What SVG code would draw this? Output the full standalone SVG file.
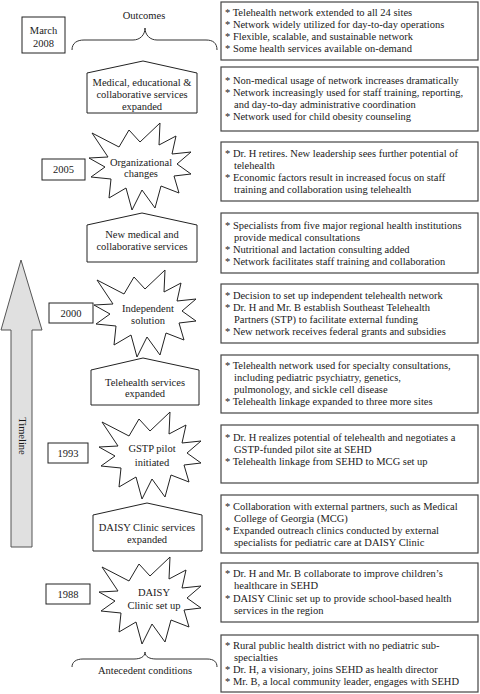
<svg xmlns="http://www.w3.org/2000/svg" xmlns:xlink="http://www.w3.org/1999/xlink" width="480" height="694" viewBox="0 0 480 694">
<style>
.rb{fill:#fff;stroke:#444;stroke-width:1.2}
.sh{fill:#fff;stroke:#222;stroke-width:1}
.t{font-family:"Liberation Serif","Times New Roman",serif;font-size:10.5px;fill:#1a1a1a}
.c{text-anchor:middle}
.br{fill:none;stroke:#333;stroke-width:1}
</style>
<defs>
<polygon id="star" points="19,-43 18,-21 35,-30 31,-12 50,-14 36,-2 50,8 33,10 38,27 20,20 14,42 1,24 -9,44 -15,22 -32,32 -30,13 -50,11 -36,1 -52,-8 -33,-9 -49,-33 -22,-19 -12,-36 -1,-24"/>
</defs>
<rect width="480" height="694" fill="#fff"/>

<g id="timeline">
<polygon points="21,260 42,330 32,330 32,547 11,547 11,330 1,330" fill="#e0e0e0" stroke="#555" stroke-width="1"/>
<text class="t c" transform="translate(18.5,436) rotate(90)">Timeline</text>
</g>

<g id="connectors">
<path class="br" d="M72,50 C72,43 77,40 84,40 L133,40 C140,40 145,35 145,28 C145,35 150,40 157,40 L206,40 C213,40 217,43 217,50"/>
<path class="br" d="M72,667 C72,662 76,659 83,659 L134,659 C140,659 145,657 145,652 C145,657 150,659 156,659 L207,659 C214,659 217,662 217,667"/>
</g>

<g id="outcomes">
<text class="t c" x="144" y="18.5">Outcomes</text>
</g>
<g id="antecedent">
<text class="t c" x="145" y="674">Antecedent conditions</text>
</g>

<g id="date-2008">
<rect class="sh" x="22" y="17" width="43" height="36"/>
<text class="t c" x="43.5" y="34">March</text>
<text class="t c" x="43.5" y="47">2008</text>
</g>
<g id="date-2005">
<rect class="sh" x="42" y="159" width="43" height="21"/>
<text class="t c" x="63.5" y="173">2005</text>
</g>
<g id="date-2000">
<rect class="sh" x="49" y="303" width="44" height="20"/>
<text class="t c" x="71" y="317">2000</text>
</g>
<g id="date-1993">
<rect class="sh" x="48" y="443" width="40" height="20"/>
<text class="t c" x="68" y="457">1993</text>
</g>
<g id="date-1988">
<rect class="sh" x="46" y="584" width="44" height="20"/>
<text class="t c" x="68" y="598">1988</text>
</g>

<g id="p1">
<polygon class="sh" points="87,73 143,61 197,73 197,113 87,113"/>
<text class="t c" x="142" y="85.5">Medical, educational &amp;</text>
<text class="t c" x="142" y="97.5">collaborative services</text>
<text class="t c" x="142" y="109.5">expanded</text>
</g>
<g id="s1">
<use xlink:href="#star" class="sh" transform="translate(141,166)"/>
<text class="t c" x="141" y="165.5">Organizational</text>
<text class="t c" x="141" y="176.5">changes</text>
</g>
<g id="p2">
<polygon class="sh" points="87,225 142,213 197,225 197,262 87,262"/>
<text class="t c" x="142" y="237.5">New medical and</text>
<text class="t c" x="142" y="249.5">collaborative services</text>
</g>
<g id="s2">
<use xlink:href="#star" class="sh" transform="translate(146,313)"/>
<text class="t c" x="148" y="311.5">Independent</text>
<text class="t c" x="148" y="323.5">solution</text>
</g>
<g id="p3">
<polygon class="sh" points="91,370 143,358 199,370 199,405 91,405"/>
<text class="t c" x="145" y="385.5">Telehealth services</text>
<text class="t c" x="145" y="397">expanded</text>
</g>
<g id="s3">
<use xlink:href="#star" class="sh" transform="translate(151,455)"/>
<text class="t c" x="152" y="451.5">GSTP pilot</text>
<text class="t c" x="152" y="465.5">initiated</text>
</g>
<g id="p4">
<polygon class="sh" points="93,515 147,503 202,515 202,551 93,551"/>
<text class="t c" x="147" y="530.5">DAISY Clinic services</text>
<text class="t c" x="147" y="542.5">expanded</text>
</g>
<g id="s4">
<use xlink:href="#star" class="sh" transform="translate(151,600)"/>
<text class="t c" x="154" y="595.5">DAISY</text>
<text class="t c" x="154" y="608.5">Clinic set up</text>
</g>

<g id="b1">
<rect class="rb" x="221" y="2" width="257" height="58"/>
<text class="t" x="225" y="16">* Telehealth network extended to all 24 sites</text>
<text class="t" x="225" y="28">* Network widely utilized for day-to-day operations</text>
<text class="t" x="225" y="40">* Flexible, scalable, and sustainable network</text>
<text class="t" x="225" y="52">* Some health services available on-demand</text>
</g>
<g id="b2">
<rect class="rb" x="221" y="67" width="257" height="64"/>
<text class="t" x="225" y="84">* Non-medical usage of network increases dramatically</text>
<text class="t" x="225" y="96">* Network increasingly used for staff training, reporting,</text>
<text class="t" x="234" y="108">and day-to-day administrative coordination</text>
<text class="t" x="225" y="120">* Network used for child obesity counseling</text>
</g>
<g id="b3">
<rect class="rb" x="221" y="142" width="257" height="59"/>
<text class="t" x="225" y="157">* Dr. H retires. New leadership sees further potential of</text>
<text class="t" x="234" y="169">telehealth</text>
<text class="t" x="225" y="181">* Economic factors result in increased focus on staff</text>
<text class="t" x="234" y="193">training and collaboration using telehealth</text>
</g>
<g id="b4">
<rect class="rb" x="221" y="213" width="257" height="60"/>
<text class="t" x="225" y="229">* Specialists from five major regional health institutions</text>
<text class="t" x="234" y="241">provide medical consultations</text>
<text class="t" x="225" y="253">* Nutritional and lactation consulting added</text>
<text class="t" x="225" y="265">* Network facilitates staff training and collaboration</text>
</g>
<g id="b5">
<rect class="rb" x="221" y="284" width="257" height="59"/>
<text class="t" x="225" y="299">* Decision to set up independent telehealth network</text>
<text class="t" x="225" y="311">* Dr. H and Mr. B establish Southeast Telehealth</text>
<text class="t" x="234" y="323">Partners (STP) to facilitate external funding</text>
<text class="t" x="225" y="335">* New network receives federal grants and subsidies</text>
</g>
<g id="b6">
<rect class="rb" x="221" y="355" width="257" height="58"/>
<text class="t" x="225" y="369">* Telehealth network used for specialty consultations,</text>
<text class="t" x="234" y="381">including pediatric psychiatry, genetics,</text>
<text class="t" x="234" y="393">pulmonology, and sickle cell disease</text>
<text class="t" x="225" y="405">* Telehealth linkage expanded to three more sites</text>
</g>
<g id="b7">
<rect class="rb" x="221" y="425" width="257" height="58"/>
<text class="t" x="225" y="441">* Dr. H realizes potential of telehealth and negotiates a</text>
<text class="t" x="234" y="453">GSTP-funded pilot site at SEHD</text>
<text class="t" x="225" y="465">* Telehealth linkage from SEHD to MCG set up</text>
</g>
<g id="b8">
<rect class="rb" x="221" y="495" width="257" height="58"/>
<text class="t" x="225" y="510">* Collaboration with external partners, such as Medical</text>
<text class="t" x="234" y="522">College of Georgia (MCG)</text>
<text class="t" x="225" y="534">* Expanded outreach clinics conducted by external</text>
<text class="t" x="234" y="546">specialists for pediatric care at DAISY Clinic</text>
</g>
<g id="b9">
<rect class="rb" x="221" y="563" width="257" height="59"/>
<text class="t" x="225" y="577">* Dr. H and Mr. B collaborate to improve children’s</text>
<text class="t" x="234" y="589">healthcare in SEHD</text>
<text class="t" x="225" y="602">* DAISY Clinic set up to provide school-based health</text>
<text class="t" x="234" y="614">services in the region</text>
</g>
<g id="b10">
<rect class="rb" x="221" y="635" width="257" height="57"/>
<text class="t" x="225" y="649">* Rural public health district with no pediatric sub-</text>
<text class="t" x="234" y="661">specialties</text>
<text class="t" x="225" y="673">* Dr. H, a visionary, joins SEHD as health director</text>
<text class="t" x="225" y="685">* Mr. B, a local community leader, engages with SEHD</text>
</g>
</svg>
